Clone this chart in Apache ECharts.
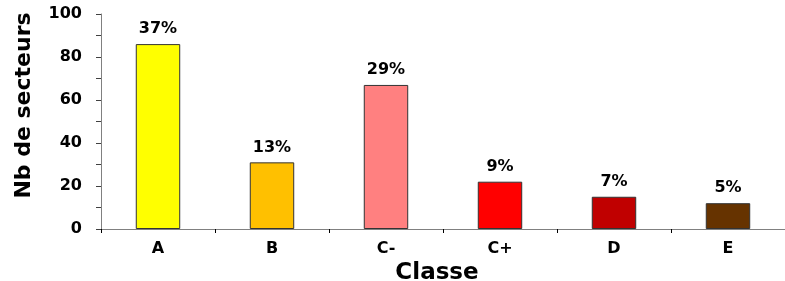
<!DOCTYPE html>
<html>
<head>
<meta charset="utf-8">
<script src="https://cdn.jsdelivr.net/npm/echarts@6/dist/echarts.min.js"></script>
<style>
  html, body { margin: 0; padding: 0; background: #fff; }
  #chart { width: 785px; height: 281px; }
</style>
</head>
<body>
<div id="chart"></div>
<script>
var classes = ["A", "B", "C-", "C+", "D", "E"];
var counts = [86, 31, 67, 22, 15, 12];
var pctLabels = ["37%", "13%", "29%", "9%", "7%", "5%"];
var barColors = ["#ffff00", "#ffc000", "#ff8080", "#ff0000", "#c00000", "#663300"];

var chartDom = document.getElementById("chart");
var myChart = echarts.init(chartDom);
var font = "DejaVu Sans, Arial, sans-serif";

var option = {
  animation: false,
  grid: { left: 101, right: 0, top: 14, bottom: 52, outerBoundsMode: "none", containLabel: false },
  xAxis: {
    type: "category",
    data: classes,
    name: "Classe",
    nameLocation: "middle",
    nameGap: 29,
    nameTextStyle: { fontFamily: font, fontWeight: "bold", fontSize: 23, color: "#000", padding: [0, 12, 0, 0] },
    axisLine: { lineStyle: { color: "#808080", width: 1 } },
    axisTick: { show: true, length: 4, lineStyle: { color: "#000" } },
    axisLabel: { fontFamily: font, fontWeight: "bold", fontSize: 16, color: "#000", margin: 12 }
  },
  yAxis: {
    type: "value",
    min: 0,
    max: 100,
    interval: 10,
    name: "Nb de secteurs",
    nameLocation: "middle",
    nameGap: 66,
    nameTextStyle: { fontFamily: font, fontWeight: "bold", fontSize: 22, color: "#000", padding: [0, 0, 0, 32] },
    axisLine: { show: true, lineStyle: { color: "#808080", width: 1 } },
    axisTick: { show: true, length: 5, lineStyle: { color: "#404040" } },
    splitLine: { show: false },
    axisLabel: {
      fontFamily: font, fontWeight: "bold", fontSize: 16, color: "#000", margin: 19,
      formatter: function (v) { return v % 20 === 0 ? String(v) : ""; }
    }
  },
  series: [{
    type: "bar",
    barWidth: "39%",
    data: counts.map(function (v, i) {
      return { value: v, itemStyle: { color: barColors[i] } };
    }),
    itemStyle: { borderColor: "#333", borderWidth: 1 },
    label: {
      show: true,
      position: "top",
      distance: 7,
      fontFamily: font,
      fontWeight: "bold",
      fontSize: 16,
      color: "#000",
      formatter: function (p) { return pctLabels[p.dataIndex]; }
    }
  }]
};
option && myChart.setOption(option);
</script>
</body>
</html>
